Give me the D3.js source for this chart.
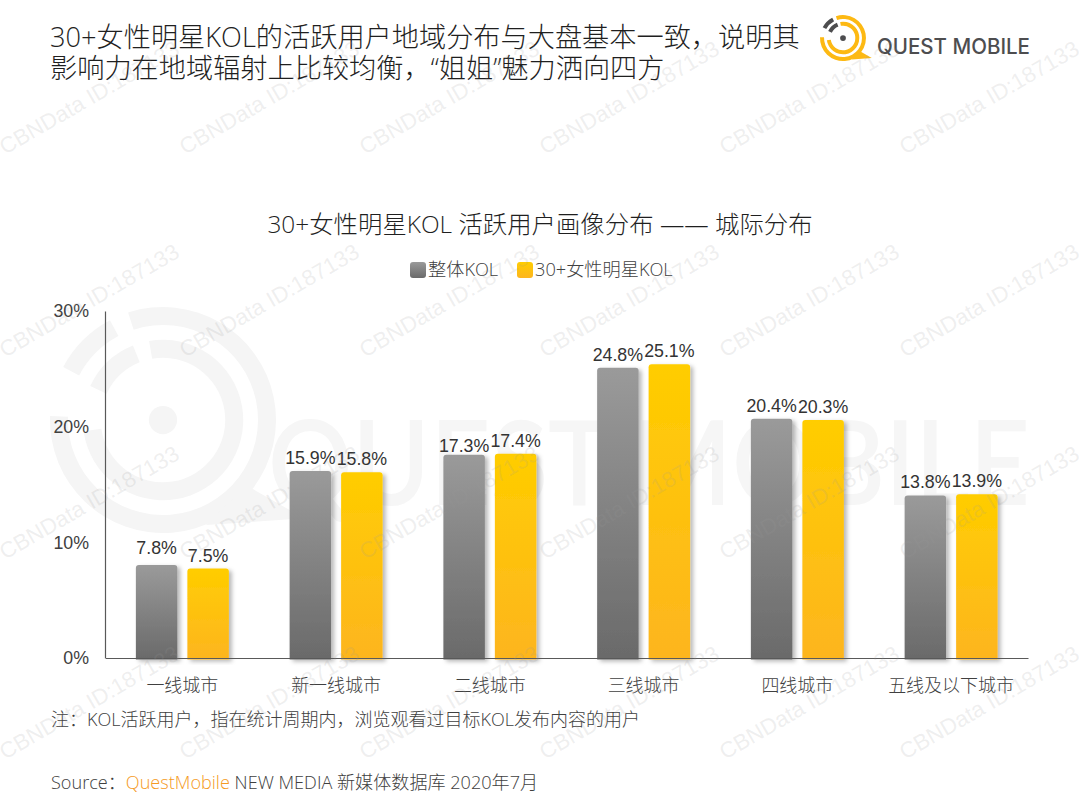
<!DOCTYPE html>
<html>
<head>
<meta charset="utf-8">
<script src="https://cdn.jsdelivr.net/npm/d3@7"></script>
<style>
  body { margin: 0; background: #fff; }
  svg { display: block; }
  text { font-family: "Open Sans", "Noto Sans CJK SC", sans-serif; }
  .num { font-family: "Liberation Sans", Arial, sans-serif; }
</style>
</head>
<body>
<div id="chart"></div>
<script>
const categories = ['一线城市', '新一线城市', '二线城市', '三线城市', '四线城市', '五线及以下城市'];
const seriesNames = ['整体KOL', '30+女性明星KOL'];
const overallValues = [7.8, 15.9, 17.3, 24.8, 20.4, 13.8];
const starValues = [7.5, 15.8, 17.4, 25.1, 20.3, 13.9];
const yTicks = [0, 10, 20, 30];
const titleLines = ['30+女性明星KOL的活跃用户地域分布与大盘基本一致，说明其', '影响力在地域辐射上比较均衡，“姐姐”魅力洒向四方'];
const chartTitle = '30+女性明星KOL 活跃用户画像分布 —— 城际分布';
const noteText = '注：KOL活跃用户，指在统计周期内，浏览观看过目标KOL发布内容的用户';
const watermark = 'CBNData ID:187133';

const width = 1080, height = 810;
const svg = d3.select('#chart').append('svg').attr('width', width).attr('height', height);
const defs = svg.append('defs');

function addGradient(id, from, to) {
  const g = defs.append('linearGradient').attr('id', id).attr('x1', 0).attr('y1', 0).attr('x2', 0).attr('y2', 1);
  g.append('stop').attr('offset', '0%').attr('stop-color', from);
  g.append('stop').attr('offset', '100%').attr('stop-color', to);
}
addGradient('grad-grey', '#9a9a9a', '#6a6a6a');
addGradient('grad-gold', '#ffcd00', '#fdb51f');

defs.append('filter').attr('id', 'bar-shadow')
  .attr('x', '-20%').attr('y', '-5%').attr('width', '150%').attr('height', '110%')
  .append('feDropShadow')
  .attr('dx', 3).attr('dy', 2).attr('stdDeviation', 2)
  .attr('flood-color', '#000').attr('flood-opacity', 0.28);

// big faded logo behind the chart
function drawLogo(g, cx, cy, r, thick, colours) {
  const root = g.append('g').attr('transform', `translate(${cx},${cy})`);
  const arc = d3.arc();
  const deg = (a) => a * Math.PI / 180;
  const inner = r * 0.71;
  // outer yellow ring, runs round to the speech tail
  root.append('path').attr('fill', colours.main).attr('d', arc({
    innerRadius: r - thick, outerRadius: r, startAngle: deg(-18), endAngle: deg(272)
  }));
  root.append('path').attr('fill', colours.main).attr('d',
    `M${r * 0.74},${r * 0.58} L${r * 1.25},${r * 0.87} L${r * 0.38},${r * 0.93} Z`);
  root.append('path').attr('fill', colours.main).attr('d', arc({
    innerRadius: inner - thick, outerRadius: inner, startAngle: deg(-10), endAngle: deg(262)
  }));
  root.append('path').attr('fill', colours.dark).attr('d', arc({
    innerRadius: r - thick, outerRadius: r, startAngle: deg(-62), endAngle: deg(-28)
  }));
  root.append('path').attr('fill', colours.dark).attr('d', arc({
    innerRadius: inner - thick, outerRadius: inner, startAngle: deg(-65), endAngle: deg(-22)
  }));
  root.append('circle').attr('r', r * 0.125).attr('fill', colours.dark);
}

const backdrop = svg.append('g');
drawLogo(backdrop, 163, 420, 113, 18, { main: '#f5f5f5', dark: '#f5f5f5' });
backdrop.append('text')
  .attr('x', 268).attr('y', 505)
  .attr('textLength', 762).attr('lengthAdjust', 'spacingAndGlyphs')
  .attr('font-size', 118).attr('font-weight', 600)
  .style('font-family', 'Lato, sans-serif')
  .attr('fill', '#f6f6f6')
  .text('QUEST MOBILE');

// heading
svg.append('g').selectAll('text').data(titleLines).join('text')
  .attr('x', 50).attr('y', (d, i) => 47 + i * 30.5)
  .attr('font-size', 27.2).attr('font-weight', 300).attr('fill', '#1f1f1f')
  .text((d) => d);

drawLogo(svg, 843, 38, 23, 4, { main: '#fdb913', dark: '#4d4d4f' });
svg.append('text')
  .attr('x', 877).attr('y', 54)
  .attr('textLength', 153).attr('lengthAdjust', 'spacingAndGlyphs')
  .attr('font-size', 21).attr('font-weight', 500)
  .style('font-family', 'Inter, sans-serif')
  .attr('fill', '#4d4d4f')
  .text('QUEST MOBILE');

svg.append('text')
  .attr('x', 540).attr('y', 233).attr('text-anchor', 'middle')
  .attr('font-size', 24.4).attr('font-weight', 300).attr('fill', '#1f1f1f')
  .text(chartTitle);

// legend
const legendX = [410, 517];
const legend = svg.append('g').selectAll('g').data(seriesNames).join('g')
  .attr('transform', (d, i) => `translate(${legendX[i]},262)`);
legend.append('rect')
  .attr('width', 16).attr('height', 16).attr('rx', 3)
  .attr('fill', (d, i) => i === 0 ? 'url(#grad-grey)' : 'url(#grad-gold)');
legend.append('text')
  .attr('x', 18).attr('y', 14)
  .attr('font-size', 18.2).attr('font-weight', 300).attr('fill', '#404040')
  .text((d) => d);

// scales. bars stand a little proud of the drawn axis in the original
const plotLeft = 105, plotRight = 1028, plotBottom = 658, plotTop = 311;
const x0 = d3.scaleBand().domain(categories).range([plotLeft + 0.5, plotRight]);
const x1 = d3.scaleBand().domain(seriesNames).range([0, x0.bandwidth()]).paddingInner(0.194).paddingOuter(0.59);
const yAxisScale = d3.scaleLinear().domain([0, 30]).range([plotBottom, plotTop]);
const yBar = d3.scaleLinear().domain([0, 30]).range([655.5, 307.5]);
const barFloor = plotBottom + 1.5;

function barPath(x, top, w, r) {
  return `M${x},${barFloor} V${top + r} Q${x},${top} ${x + r},${top} H${x + w - r} Q${x + w},${top} ${x + w},${top + r} V${barFloor} Z`;
}

const rows = categories.map((c, i) => ({ category: c, values: [overallValues[i], starValues[i]] }));
const groups = svg.append('g').selectAll('g').data(rows).join('g')
  .attr('transform', (d) => `translate(${x0(d.category)},0)`);

groups.selectAll('path').data((d) => d.values).join('path')
  .attr('d', (v, i) => barPath(x1(seriesNames[i]), yBar(v), x1.bandwidth(), 3))
  .attr('fill', (v, i) => i === 0 ? 'url(#grad-grey)' : 'url(#grad-gold)')
  .attr('filter', 'url(#bar-shadow)');

// most labels sit 7px above the bar, two were moved by hand in the original
const labelNudge = { '7.8': -4, '17.3': 4 };
groups.selectAll('text').data((d) => d.values).join('text')
  .attr('class', 'num')
  .attr('x', (v, i) => x1(seriesNames[i]) + x1.bandwidth() / 2)
  .attr('y', (v) => yBar(v) - 7 + (labelNudge[v] || 0))
  .attr('text-anchor', 'middle')
  .attr('font-size', 17.8).attr('fill', '#333')
  .text((v) => v.toFixed(1) + '%');

// axes
const yAxis = svg.append('g').attr('transform', `translate(${plotLeft},0)`)
  .call(d3.axisLeft(yAxisScale).tickValues(yTicks).tickSize(0).tickPadding(16).tickFormat((d) => d + '%'));
yAxis.select('.domain').attr('stroke', '#595959').attr('stroke-width', 1.2);
yAxis.selectAll('text').attr('class', 'num').attr('font-size', 17.8).attr('fill', '#404040');

const xAxis = svg.append('g').attr('transform', `translate(0,${plotBottom})`)
  .call(d3.axisBottom(x0).tickSize(0).tickPadding(21));
xAxis.select('.domain').attr('stroke', '#595959').attr('stroke-width', 1.2);
xAxis.selectAll('text')
  .attr('font-size', 18).attr('font-weight', 300).attr('fill', '#404040')
  .style('font-family', '"Open Sans", "Noto Sans CJK SC", sans-serif');

// footer
svg.append('text')
  .attr('x', 51).attr('y', 726)
  .attr('font-size', 18).attr('font-weight', 300).attr('fill', '#404040')
  .text(noteText);
const source = svg.append('text')
  .attr('x', 51).attr('y', 789)
  .attr('font-size', 18.1).attr('font-weight', 300).attr('fill', '#404040');
source.append('tspan').text('Source：');
source.append('tspan').attr('fill', '#f59a23').text('QuestMobile');
source.append('tspan').text(' NEW MEDIA 新媒体数据库 2020年7月');

// repeated stamp over everything
const stampCols = d3.range(0, 6).map((i) => 5 + i * 180);
const stampRows = [155, 358, 560, 760];
const stamps = stampRows.flatMap((y) => stampCols.map((x) => ({ x, y })));
svg.append('g').selectAll('text').data(stamps).join('text')
  .attr('class', 'num')
  .attr('transform', (d) => `translate(${d.x},${d.y}) rotate(-30)`)
  .attr('font-size', 22.3)
  .attr('fill', '#9a9a9a').attr('fill-opacity', 0.17)
  .text(watermark);
</script>
</body>
</html>
